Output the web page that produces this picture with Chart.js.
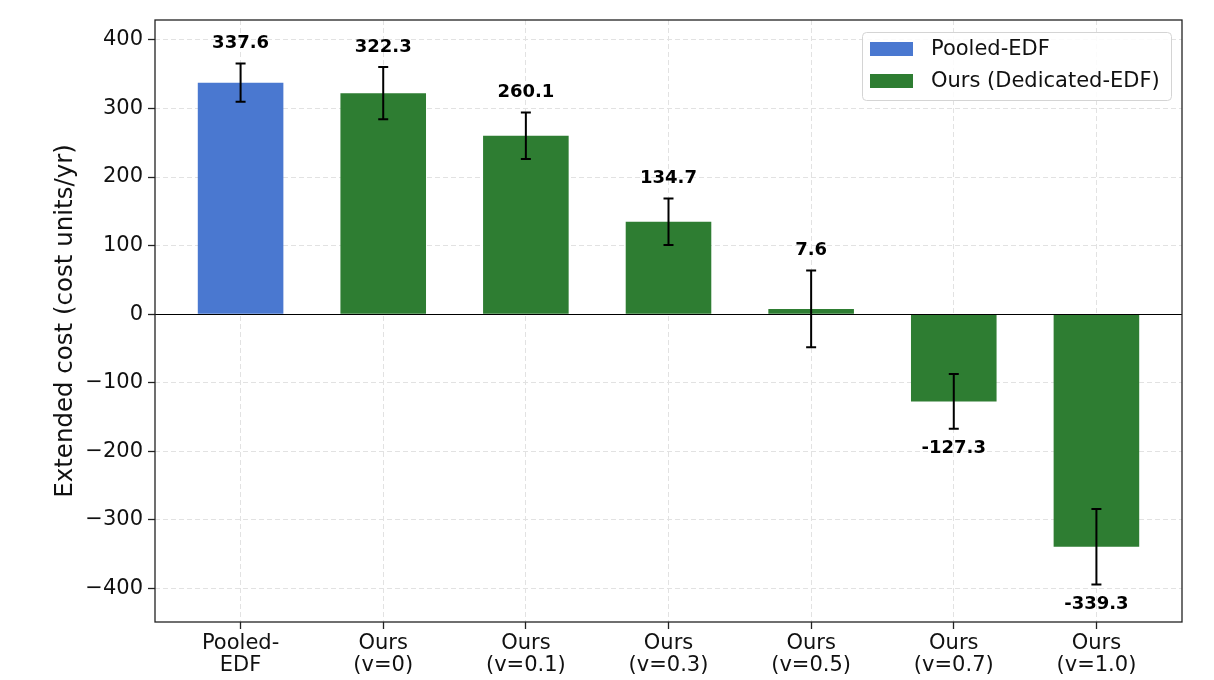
<!DOCTYPE html>
<html>
<head>
<meta charset="utf-8">
<script src="https://cdn.jsdelivr.net/npm/chart.js@4.4.1/dist/chart.umd.min.js"></script>
<style>
  html, body { margin: 0; padding: 0; background: #fff; }
  #wrap { width: 1214px; height: 680px; }
</style>
</head>
<body>
<div id="wrap"><canvas id="costChart" width="1214" height="680"></canvas></div>
<script>
'use strict'

// categories on the x axis (two-line labels)
const categories = [
  ['Pooled-', 'EDF'],
  ['Ours', '(v=0)'],
  ['Ours', '(v=0.1)'],
  ['Ours', '(v=0.3)'],
  ['Ours', '(v=0.5)'],
  ['Ours', '(v=0.7)'],
  ['Ours', '(v=1.0)']
]
const seriesNames = ['Pooled-EDF', 'Ours (Dedicated-EDF)']
const pooledCost = [337.6]
const oursCost = [322.3, 260.1, 134.7, 7.6, -127.3, -339.3]
const pooledErr = [28]
const oursErr = [38, 34, 34, 56, 40, 55]
const yTicks = [-400, -300, -200, -100, 0, 100, 200, 300, 400]

const BLUE = '#4a78d0'
const GREEN = '#2e7d32'
const FONT = "'DejaVu Sans', 'Liberation Sans', sans-serif"

const pooledPts = pooledCost.map((v, i) => ({ x: i, y: v, err: pooledErr[i] }))
const oursPts = oursCost.map((v, i) => ({ x: i + 1, y: v, err: oursErr[i] }))

// error bars, value labels, zero line, frame and legend
const extras = {
  id: 'extras',
  afterDatasetsDraw(chart) {
    const { ctx, chartArea: a, scales: { x, y } } = chart
    ctx.save()

    // zero line
    const zy = Math.round(y.getPixelForValue(0)) + 0.5
    ctx.strokeStyle = '#000'
    ctx.lineWidth = 1.2
    ctx.beginPath()
    ctx.moveTo(a.left, zy)
    ctx.lineTo(a.right, zy)
    ctx.stroke()

    // error bars + labels
    const pts = pooledPts.concat(oursPts)
    ctx.lineWidth = 2
    ctx.font = `bold 18px ${FONT}`
    ctx.textAlign = 'center'
    ctx.textBaseline = 'middle'
    ctx.fillStyle = '#000'
    pts.forEach(p => {
      const px = x.getPixelForValue(p.x)
      const top = y.getPixelForValue(p.y + p.err)
      const bot = y.getPixelForValue(p.y - p.err)
      ctx.beginPath()
      ctx.moveTo(px, top); ctx.lineTo(px, bot)
      ctx.moveTo(px - 5, top); ctx.lineTo(px + 5, top)
      ctx.moveTo(px - 5, bot); ctx.lineTo(px + 5, bot)
      ctx.stroke()
      const ly = p.y >= 0 ? top - 20 : bot + 19.5
      ctx.fillText(p.y.toFixed(1), px, ly)
    })

    // frame
    ctx.strokeStyle = '#222'
    ctx.lineWidth = 1.3
    ctx.strokeRect(a.left, a.top, a.right - a.left, a.bottom - a.top)

    // legend
    const lx = 862, ly = 32, lw = 309, lh = 68
    ctx.fillStyle = 'rgba(255,255,255,0.85)'
    ctx.strokeStyle = '#d4d4d4'
    ctx.lineWidth = 1
    ctx.beginPath()
    ctx.roundRect(lx + 0.5, ly + 0.5, lw, lh, 4)
    ctx.fill()
    ctx.stroke()
    ctx.font = `21px ${FONT}`
    ctx.textAlign = 'left'
    ;[BLUE, GREEN].forEach((c, i) => {
      const cy = 49 + i * 32
      ctx.fillStyle = c
      ctx.fillRect(870, cy - 7, 43, 14)
      ctx.fillStyle = '#111'
      ctx.fillText(seriesNames[i], 931, cy + 1)
    })
    ctx.restore()
  }
}

const gridOpts = {
  color: '#e2e2e2',
  lineWidth: 1,
  tickLength: 7,
  tickColor: '#222',
  tickWidth: 1.3,
  tickBorderDash: []
}

const ctx = document.getElementById('costChart')
// eslint-disable-next-line no-unused-vars
const costChart = new Chart(ctx, {
  type: 'bar',
  data: {
    datasets: [{
      label: seriesNames[0],
      data: pooledPts,
      backgroundColor: BLUE,
      borderWidth: 0
    }, {
      label: seriesNames[1],
      data: oursPts,
      backgroundColor: GREEN,
      borderWidth: 0
    }]
  },
  options: {
    responsive: false,
    animation: false,
    grouped: false,
    barPercentage: 0.6,
    categoryPercentage: 1,
    layout: { padding: { top: 20, right: 32, left: 0, bottom: 0 } },
    plugins: {
      legend: { display: false },
      tooltip: { enabled: false }
    },
    scales: {
      x: {
        type: 'linear',
        min: -0.6,
        max: 6.6,
        offset: false,
        afterBuildTicks: s => { s.ticks = categories.map((_, i) => ({ value: i })) },
        afterFit: s => { s.height = 58 },
        ticks: {
          callback: v => categories[v],
          font: { family: FONT, size: 21, lineHeight: 1.03 },
          color: '#111',
          padding: 4,
          maxRotation: 0,
          autoSkip: false
        },
        grid: Object.assign({ offset: false }, gridOpts),
        border: { display: false, dash: [5, 3] }
      },
      y: {
        min: -449,
        max: 429,
        afterBuildTicks: s => { s.ticks = yTicks.map(v => ({ value: v })) },
        afterFit: s => { s.width = 155 },
        ticks: {
          callback: v => (v < 0 ? '\u2212' + Math.abs(v) : String(v)),
          font: { family: FONT, size: 21 },
          color: '#111',
          padding: 5
        },
        grid: gridOpts,
        border: { display: false, dash: [5, 3] },
        title: {
          display: true,
          text: 'Extended cost (cost units/yr)',
          font: { family: FONT, size: 24.5 },
          color: '#111',
          padding: { top: 51, bottom: 0 }
        }
      }
    }
  },
  plugins: [extras]
})
</script>
</body>
</html>
